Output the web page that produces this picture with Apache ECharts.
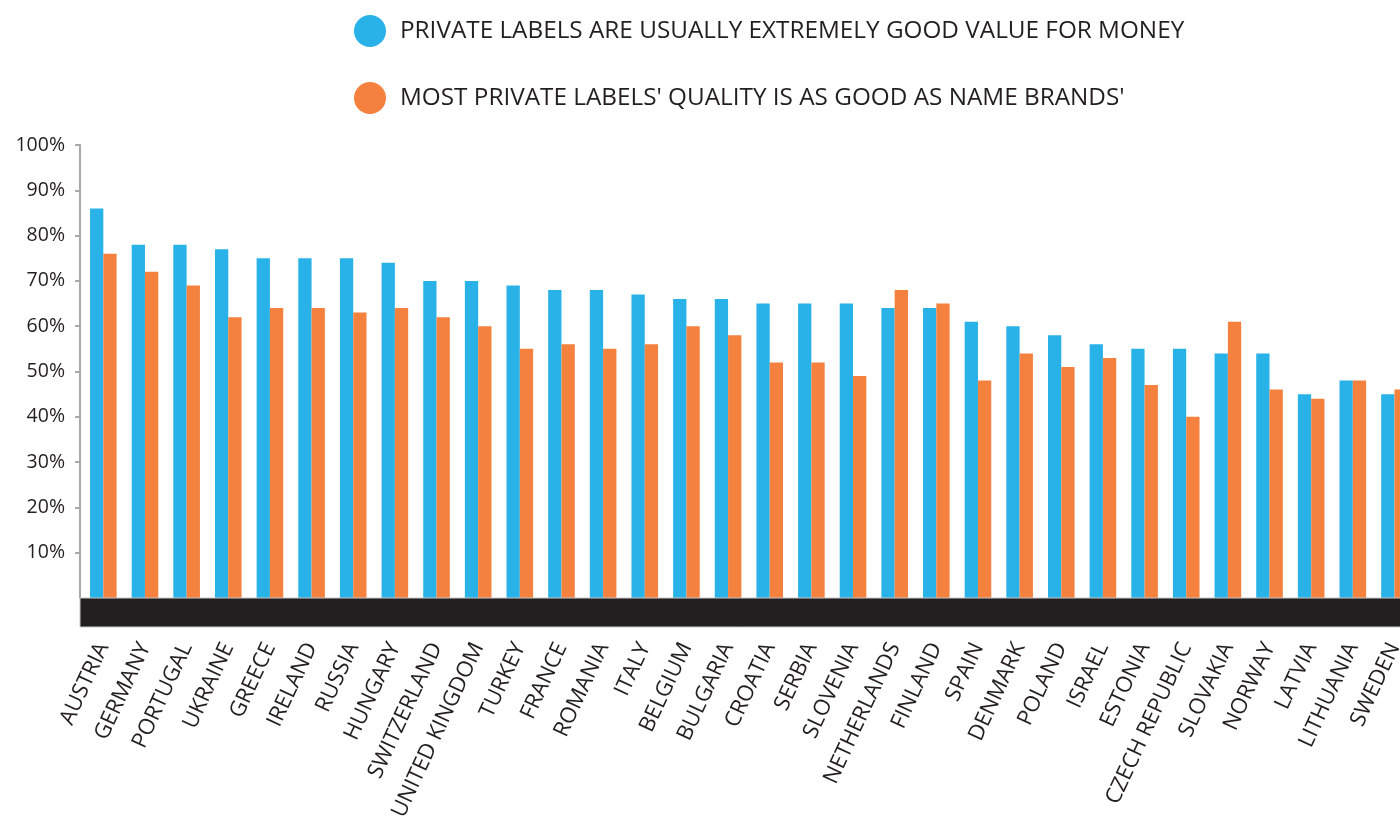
<!DOCTYPE html>
<html>
<head>
<meta charset="utf-8">
<script src="https://cdn.jsdelivr.net/npm/echarts@6/dist/echarts.min.js"></script>
<style>
html,body{margin:0;padding:0;background:#fff;}
#chart{width:1400px;height:832px;}
</style>
</head>
<body>
<div id="chart"></div>
<script>
const categories = ['AUSTRIA','GERMANY','PORTUGAL','UKRAINE','GREECE','IRELAND','RUSSIA','HUNGARY','SWITZERLAND','UNITED KINGDOM','TURKEY','FRANCE','ROMANIA','ITALY','BELGIUM','BULGARIA','CROATIA','SERBIA','SLOVENIA','NETHERLANDS','FINLAND','SPAIN','DENMARK','POLAND','ISRAEL','ESTONIA','CZECH REPUBLIC','SLOVAKIA','NORWAY','LATVIA','LITHUANIA','SWEDEN'];
const valueForMoney = [86,78,78,77,75,75,75,74,70,70,69,68,68,67,66,66,65,65,65,64,64,61,60,58,56,55,55,54,54,45,48,45];
const qualityAsGood = [76,72,69,62,64,64,63,64,62,60,55,56,55,56,60,58,52,52,49,68,65,48,54,51,53,47,40,61,46,44,48,46];
const seriesNames = ['PRIVATE LABELS ARE USUALLY EXTREMELY GOOD VALUE FOR MONEY', "MOST PRIVATE LABELS' QUALITY IS AS GOOD AS NAME BRANDS'"];
const yTickValues = [10,20,30,40,50,60,70,80,90,100];

const chart = echarts.init(document.getElementById('chart'));
const textColor = '#231f20';
const GRID_LEFT = 82.5, Y_OFFSET = 2.5, BAND_H = 29;
chart.setOption({
  animation: false,
  legend: {
    orient: 'vertical',
    left: 349,
    top: 10,
    itemWidth: 32,
    itemHeight: 32,
    itemGap: 35,
    icon: 'circle',
    textStyle: { color: textColor, fontFamily: 'Open Sans', fontSize: 24.3, padding: [0,0,0,9] },
    data: seriesNames
  },
  grid: { left: GRID_LEFT, top: 145, width: categories.length * 41.65, bottom: 234, containLabel: false, outerBoundsMode: 'none' },
  xAxis: {
    type: 'category',
    data: categories,
    axisLine: { show: false },
    axisTick: { show: false },
    axisLabel: {
      rotate: 65,
      interval: 0,
      margin: 46,
      color: textColor,
      fontFamily: 'Open Sans',
      fontSize: 22
    }
  },
  yAxis: {
    type: 'value',
    min: 0,
    max: 100,
    interval: 10,
    offset: Y_OFFSET,
    splitLine: { show: false },
    axisLine: { show: true, lineStyle: { color: '#a8a8a8', width: 2 } },
    axisTick: { show: true, length: 5, customValues: yTickValues, lineStyle: { color: '#a8a8a8', width: 2 } },
    axisLabel: {
      margin: 15,
      customValues: yTickValues,
      color: textColor,
      fontFamily: 'Open Sans',
      fontSize: 19.5,
      formatter: v => v + '%'
    }
  },
  series: [
    { name: seriesNames[0], type: 'bar', data: valueForMoney, barWidth: 13.3, barGap: '0%', itemStyle: { color: '#29B2E8' } },
    { name: seriesNames[1], type: 'bar', data: qualityAsGood, barWidth: 13.3, barGap: '0%', itemStyle: { color: '#F5813F' } }
  ]
});
// black base band under the zero line, positioned from the axis scale
const y0 = chart.convertToPixel({ yAxisIndex: 0 }, 0);
chart.setOption({
  graphic: [{
    type: 'rect',
    shape: { x: GRID_LEFT - Y_OFFSET, y: y0, width: 1400, height: BAND_H },
    style: { fill: '#231f20', stroke: '#c8c8c8', lineWidth: 1 },
    z: 10
  }]
});
</script>
</body>
</html>
